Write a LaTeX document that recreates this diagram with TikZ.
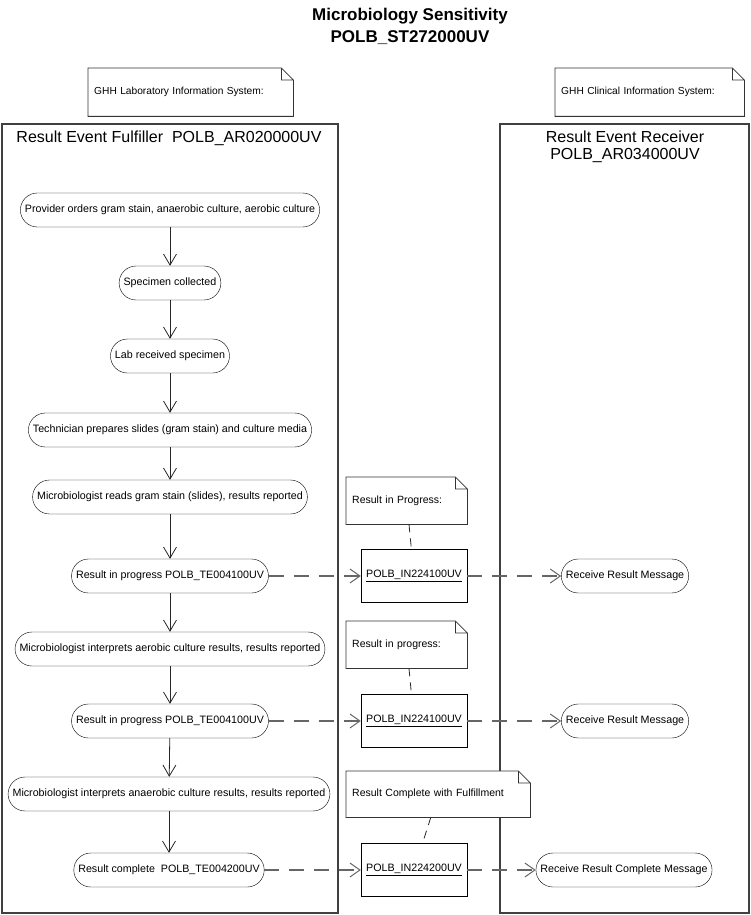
\documentclass[tikz,border=0pt]{standalone}
\usepackage{fontspec}
\setmainfont{Liberation Sans}
\usetikzlibrary{arrows.meta}

\begin{document}
\begin{tikzpicture}[x=1pt, y=-1pt,
  activity/.style={draw, rectangle, rounded corners=17pt, minimum height=34pt,
    inner xsep=4.5pt, font=\fontsize{10.7}{13}\selectfont},
  message/.style={draw, rectangle, minimum width=106pt, minimum height=53pt,
    inner sep=0pt, font=\fontsize{10.7}{13}\selectfont},
  note/.style={fill=white, anchor=north west, align=left, inner xsep=6pt,
    font=\fontsize{10.5}{13}\selectfont},
  notes/.style={draw=black!80, line width=0.8pt},
  lane/.style={draw=black!75, line width=1.6pt},
  paths/.style={-{Straight Barb[length=11pt,width=13pt]}, draw=black!85, line width=0.8pt},
  msgpaths/.style={-{Straight Barb[length=10pt,width=14pt,line width=1pt]},
    draw=black!60, line width=1.5pt, dash pattern=on 15pt off 10pt},
  notelink/.style={draw=black!85, line width=0.8pt, dash pattern=on 8pt off 6pt}]

 \useasboundingbox (0,0) rectangle (751,915);

 % title
 \node (title) at (410,26) [align=center, font=\bfseries\fontsize{17}{22}\selectfont]
     {Microbiology Sensitivity\\POLB\_ST272000UV};

 % swim lanes
 \draw [lane] (2,124) rectangle (338,913);
 \draw [lane] (500,124) rectangle (749,913);

 \node (fulfiller_title) at (169,138) [font=\fontsize{16}{18}\selectfont]
     {Result Event Fulfiller\ \ POLB\_AR020000UV};

 \node (receiver_title) at (625,147) [align=center, font=\fontsize{16}{17.5}\selectfont]
     {Result Event Receiver\\POLB\_AR034000UV};

 % notes
 \node[note, text width=193pt, minimum height=48pt, font=\fontsize{10.2}{12}\selectfont]
     (lab_note) at (88,68)
     {GHH Laboratory Information System:};

 \node[note, text width=177pt, minimum height=48pt, font=\fontsize{10.2}{12}\selectfont]
     (clinic_note) at (555,68)
     {GHH Clinical Information System:};

 \node[note, text width=109pt, minimum height=47pt] (progress_note_1) at (346,477)
     {Result in Progress:};

 \node[note, text width=109pt, minimum height=47pt] (progress_note_2) at (346,621)
     {Result in progress:};

 \node[note, text width=172pt, minimum height=46pt] (complete_note) at (346,771)
     {Result Complete with Fulfillment};

 \foreach \n in {lab_note, clinic_note, progress_note_1, progress_note_2, complete_note}
   \draw [notes] (\n.south west) -- (\n.south east) -- ([yshift=-12pt]\n.north east)
     -- ([xshift=-12pt]\n.north east) -- (\n.north west) -- cycle
     ([xshift=-12pt]\n.north east) -- ([xshift=-12pt,yshift=-12pt]\n.north east)
     -- ([yshift=-12pt]\n.north east);

 % fulfiller activities
 \node[activity] (step_1) at (170,210)
     {Provider orders gram stain, anaerobic culture, aerobic culture};

 \node[activity] (step_2) at (170,283)
     {Specimen collected};

 \node[activity] (step_3) at (170,356)
     {Lab received specimen};

 \node[activity] (step_4) at (170,430)
     {Technician prepares slides (gram stain) and culture media};

 \node[activity] (step_5) at (170,497)
     {Microbiologist reads gram stain (slides), results reported};

 \node[activity] (step_6) at (170,576)
     {Result in progress POLB\_TE004100UV};

 \node[activity] (step_7) at (170,649)
     {Microbiologist interprets aerobic culture results, results reported};

 \node[activity] (step_8) at (170,721)
     {Result in progress POLB\_TE004100UV};

 \node[activity] (step_9) at (169,794)
     {Microbiologist interprets anaerobic culture results, results reported};

 \node[activity] (step_10) at (169,870)
     {Result complete\ \ POLB\_TE004200UV};

 % interactions
 \node[message] (msg_1) at (414,576)
     {\underline{POLB\_IN224100UV}};

 \node[message] (msg_2) at (414,721)
     {\underline{POLB\_IN224100UV}};

 \node[message] (msg_3) at (414,870)
     {\underline{POLB\_IN224200UV}};

 % receiver activities
 \node[activity] (receive_1) at (625,576)
     {Receive Result Message};

 \node[activity] (receive_2) at (625,721)
     {Receive Result Message};

 \node[activity] (receive_3) at (624,870)
     {Receive Result Complete Message};

 \foreach \a/\b in {1/2, 2/3, 3/4, 4/5, 5/6, 6/7, 7/8, 8/9, 9/10}
   \draw [paths] (step_\a) -- (step_\b);

 \draw [msgpaths] (step_6) -- (msg_1);
 \draw [msgpaths] (msg_1) -- (receive_1);
 \draw [msgpaths] (step_8) -- (msg_2);
 \draw [msgpaths] (msg_2) -- (receive_2);
 \draw [msgpaths] (step_10) -- (msg_3);
 \draw [msgpaths] (msg_3) -- (receive_3);

 \draw [notelink] (progress_note_1) -- (msg_1);
 \draw [notelink] (progress_note_2) -- (msg_2);
 \draw [notelink] (complete_note) -- (msg_3);

\end{tikzpicture}
\end{document}
